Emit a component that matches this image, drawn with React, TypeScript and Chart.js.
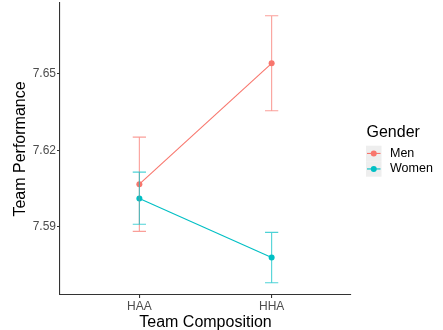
import React, { useEffect, useRef } from "react";
import { Chart, registerables } from "chart.js";

Chart.register(...registerables);

const categories = ["HAA", "HHA"];
const seriesNames = ["Men", "Women"];
const menMean = [7.6068, 7.6541];
const menLower = [7.5883, 7.6355];
const menUpper = [7.6252, 7.6727];
const womenMean = [7.6012, 7.5781];
const womenLower = [7.5911, 7.5682];
const womenUpper = [7.6115, 7.5879];
const yTicks = [7.59, 7.62, 7.65];

const COLORS = ["#F8766D", "#00BFC4"];
const FONT = "'Liberation Sans', Arial, sans-serif";

export default function App() {
  const ref = useRef<HTMLCanvasElement | null>(null);

  useEffect(() => {
    document.body.style.margin = "0";
    const canvas = ref.current;
    if (!canvas) return;

    const lowers = [menLower, womenLower];
    const uppers = [menUpper, womenUpper];

    const errorBars = {
      id: "errorBars",
      afterDatasetsDraw(chart: any) {
        const { ctx, scales } = chart;
        const xs = scales.x;
        const ys = scales.y;
        ctx.save();
        [0, 1].forEach((s) => {
          ctx.strokeStyle = COLORS[s];
          ctx.globalAlpha = 0.7;
          ctx.lineWidth = 1.1;
          categories.forEach((_, i) => {
            const xv = i + 1;
            const x = xs.getPixelForValue(xv);
            const xl = xs.getPixelForValue(xv - 0.05);
            const xr = xs.getPixelForValue(xv + 0.05);
            const yl = ys.getPixelForValue(lowers[s][i]);
            const yu = ys.getPixelForValue(uppers[s][i]);
            ctx.beginPath();
            ctx.moveTo(x, yl);
            ctx.lineTo(x, yu);
            ctx.moveTo(xl, yl);
            ctx.lineTo(xr, yl);
            ctx.moveTo(xl, yu);
            ctx.lineTo(xr, yu);
            ctx.stroke();
          });
        });
        ctx.restore();
      },
    };

    const textPlugin = {
      id: "texts",
      afterDraw(chart: any) {
        const { ctx, chartArea } = chart;
        ctx.save();
        ctx.fillStyle = "#000";
        ctx.font = `16px ${FONT}`;
        ctx.textAlign = "center";
        ctx.textBaseline = "alphabetic";
        ctx.fillText("Team Composition", (chartArea.left + chartArea.right) / 2, 326.5);
        ctx.save();
        ctx.translate(25, (chartArea.top + chartArea.bottom) / 2);
        ctx.rotate(-Math.PI / 2);
        ctx.fillText("Team Performance", 0, 0);
        ctx.restore();
        ctx.textAlign = "left";
        ctx.fillText("Gender", 366.5, 136.5);
        const keyX = 366;
        const keyY = 145.7;
        const keyS = 15.5;
        seriesNames.forEach((name, i) => {
          const y0 = keyY + i * keyS;
          ctx.fillStyle = "#EEEEEE";
          ctx.fillRect(keyX, y0, keyS, keyS);
          const cy = y0 + keyS / 2;
          ctx.strokeStyle = COLORS[i];
          ctx.lineWidth = 1.1;
          ctx.beginPath();
          ctx.moveTo(keyX + 1, cy);
          ctx.lineTo(keyX + keyS - 1, cy);
          ctx.stroke();
          ctx.fillStyle = COLORS[i];
          ctx.beginPath();
          ctx.arc(keyX + keyS / 2, cy, 3, 0, Math.PI * 2);
          ctx.fill();
          ctx.fillStyle = "#000";
          ctx.font = `12.5px ${FONT}`;
          ctx.textBaseline = "middle";
          ctx.fillText(name, 390, cy);
        });
        ctx.restore();
      },
    };

    const means = [menMean, womenMean];
    const chart = new Chart(canvas, {
      type: "line",
      data: {
        datasets: seriesNames.map((name, s) => ({
          label: name,
          data: categories.map((_, i) => ({ x: i + 1, y: means[s][i] })),
          borderColor: COLORS[s],
          backgroundColor: COLORS[s],
          borderWidth: 1.1,
          pointRadius: 3,
          pointBorderWidth: 0,
          pointHoverRadius: 3,
        })),
      },
      options: {
        animation: false,
        responsive: false,
        events: [],
        layout: { padding: { left: 0, top: 3, right: 92, bottom: 0 } },
        plugins: {
          legend: { display: false },
          tooltip: { enabled: false },
        },
        scales: {
          x: {
            type: "linear",
            min: 0.4,
            max: 2.6,
            afterBuildTicks: (scale: any) => {
              scale.ticks = categories.map((_, i) => ({ value: i + 1 }));
            },
            afterFit: (scale: any) => {
              scale.height = 35;
              scale.paddingLeft = 0;
              scale.paddingRight = 0;
            },
            ticks: {
              callback: (v: any) => categories[Number(v) - 1] ?? "",
              color: "#4D4D4D",
              font: { family: FONT, size: 12 },
              padding: 1,
              maxRotation: 0,
              autoSkip: false,
            },
            grid: {
              drawOnChartArea: false,
              drawTicks: true,
              tickLength: 3,
              color: "#333333",
              lineWidth: 1.1,
            },
            border: { display: true, color: "#333333", width: 1.1 },
          },
          y: {
            type: "linear",
            min: 7.5634,
            max: 7.6777,
            afterBuildTicks: (scale: any) => {
              scale.ticks = yTicks.map((v) => ({ value: v }));
            },
            afterFit: (scale: any) => {
              scale.width = 60;
              scale.paddingTop = 0;
              scale.paddingBottom = 0;
            },
            ticks: {
              callback: (v: any) => Number(v).toFixed(2),
              color: "#4D4D4D",
              font: { family: FONT, size: 12 },
              padding: 1,
              autoSkip: false,
            },
            grid: {
              drawOnChartArea: false,
              drawTicks: true,
              tickLength: 3,
              color: "#333333",
              lineWidth: 1.1,
            },
            border: { display: true, color: "#333333", width: 1.1 },
          },
        },
      },
      plugins: [errorBars, textPlugin],
    });

    return () => chart.destroy();
  }, []);

  return (
    <div style={{ width: 443, height: 330 }}>
      <canvas ref={ref} width={443} height={330} style={{ display: "block" }} />
    </div>
  );
}
